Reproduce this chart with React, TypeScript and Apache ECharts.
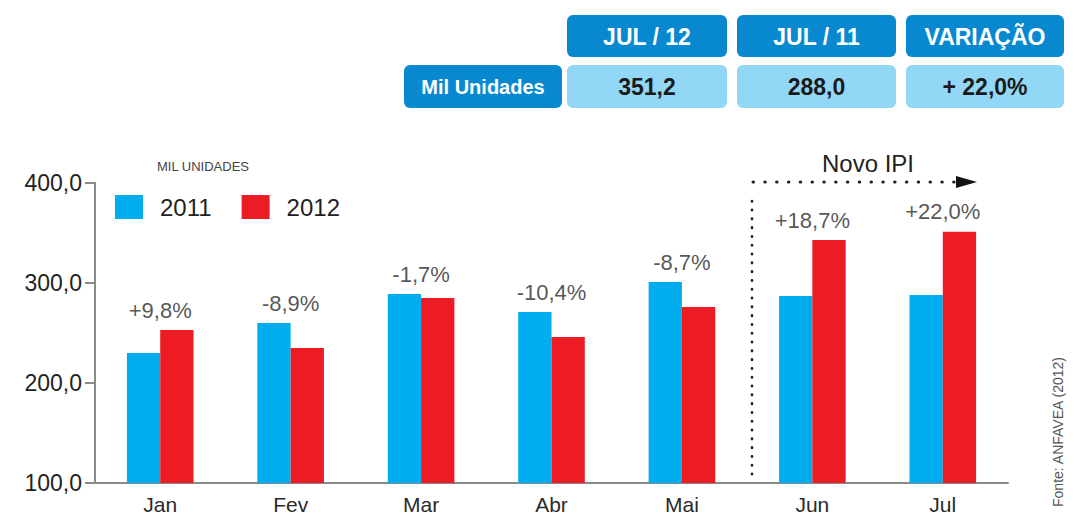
import React, { useEffect, useRef } from "react";
import * as echarts from "echarts";

const months = ["Jan", "Fev", "Mar", "Abr", "Mai", "Jun", "Jul"];
const values2011 = [230, 260, 289, 271, 301, 287, 288.0];
const values2012 = [253, 235, 285, 246, 276, 343, 351.2];
const changes = ["+9,8%", "-8,9%", "-1,7%", "-10,4%", "-8,7%", "+18,7%", "+22,0%"];
const yTicks = [100, 200, 300, 400];

const tableHeaders = ["JUL / 12", "JUL / 11", "VARIAÇÃO"];
const tableRowLabel = "Mil Unidades";
const tableValues = ["351,2", "288,0", "+ 22,0%"];

const FONT = '"Liberation Sans", Arial, Helvetica, sans-serif';
const BLUE = "#00aeef";
const RED = "#ed1c24";
const DARK_BOX = "#0889cf";
const LIGHT_BOX = "#92d8f6";

export default function App() {
  const ref = useRef<HTMLDivElement>(null);

  useEffect(() => {
    if (!ref.current) return;
    const chart = echarts.init(ref.current, null, { renderer: "svg" });

    const colX = [567, 737, 906];
    const colW = [160, 159, 158];
    const graphics: any[] = [];
    tableHeaders.forEach((h, i) => {
      graphics.push({
        type: "rect",
        shape: { x: colX[i], y: 15, width: colW[i], height: 42, r: 6 },
        style: { fill: DARK_BOX },
      });
      graphics.push({
        type: "text",
        x: colX[i] + colW[i] / 2,
        y: 37,
        style: {
          text: h,
          fill: "#ffffff",
          font: `bold 23px ${FONT}`,
          textAlign: "center",
          textVerticalAlign: "middle",
        },
      });
      graphics.push({
        type: "rect",
        shape: { x: colX[i], y: 65, width: colW[i], height: 43, r: 6 },
        style: { fill: LIGHT_BOX },
      });
      graphics.push({
        type: "text",
        x: colX[i] + colW[i] / 2,
        y: 87,
        style: {
          text: tableValues[i],
          fill: "#1a1a1a",
          font: `bold 23px ${FONT}`,
          textAlign: "center",
          textVerticalAlign: "middle",
        },
      });
    });
    graphics.push({
      type: "rect",
      shape: { x: 404, y: 65, width: 158, height: 43, r: 6 },
      style: { fill: DARK_BOX },
    });
    graphics.push({
      type: "text",
      x: 483,
      y: 87,
      style: {
        text: tableRowLabel,
        fill: "#ffffff",
        font: `bold 20px ${FONT}`,
        textAlign: "center",
        textVerticalAlign: "middle",
      },
    });
    graphics.push({
      type: "text",
      x: 157,
      y: 166,
      style: {
        text: "MIL UNIDADES",
        fill: "#444444",
        font: `13px ${FONT}`,
        textAlign: "left",
        textVerticalAlign: "middle",
      },
    });
    graphics.push({
      type: "text",
      x: 868,
      y: 163,
      style: {
        text: "Novo IPI",
        fill: "#222222",
        font: `24px ${FONT}`,
        textAlign: "center",
        textVerticalAlign: "middle",
      },
    });
    graphics.push({
      type: "line",
      shape: { x1: 753, y1: 182, x2: 958, y2: 182 },
      style: { stroke: "#222222", lineWidth: 3, lineDash: [0.5, 11.3], lineCap: "round" },
    });
    graphics.push({
      type: "polygon",
      shape: { points: [[956, 176], [977, 182], [956, 188]] },
      style: { fill: "#111111" },
    });
    graphics.push({
      type: "line",
      shape: { x1: 752, y1: 201, x2: 752, y2: 476 },
      style: { stroke: "#222222", lineWidth: 2.6, lineDash: [0.5, 8.3], lineCap: "round" },
    });
    graphics.push({
      type: "text",
      x: 1058,
      y: 432,
      rotation: Math.PI / 2,
      style: {
        text: "Fonte: ANFAVEA (2012)",
        fill: "#555555",
        font: `14px ${FONT}`,
        textAlign: "center",
        textVerticalAlign: "middle",
      },
    });

    const labelAnchor = months.map((_, i) => Math.max(values2011[i], values2012[i]));

    chart.setOption({
      animation: false,
      textStyle: { fontFamily: FONT },
      grid: { left: 95, right: 69, top: 183, bottom: 35, containLabel: false },
      legend: {
        data: ["2011", "2012"],
        left: 110,
        top: 190,
        itemWidth: 28,
        itemHeight: 24,
        itemGap: 30,
        icon: "rect",
        textStyle: { fontSize: 24, color: "#231f20", fontFamily: FONT, padding: [0, 0, 0, 12] },
      },
      xAxis: {
        type: "category",
        data: months,
        axisLine: { lineStyle: { color: "#8a8a8a", width: 2 } },
        axisTick: { show: false },
        axisLabel: { fontSize: 21, color: "#2a2a2a", margin: 11, fontFamily: FONT },
      },
      yAxis: {
        type: "value",
        min: yTicks[0],
        max: yTicks[yTicks.length - 1],
        interval: 100,
        axisLine: { show: true, lineStyle: { color: "#8a8a8a", width: 2 } },
        axisTick: { show: true, length: 10, lineStyle: { color: "#8a8a8a", width: 2 } },
        splitLine: { show: false },
        axisLabel: {
          fontSize: 23,
          color: "#231f20",
          margin: 13,
          fontFamily: FONT,
          formatter: (v: number) => v.toFixed(1).replace(".", ","),
        },
      },
      series: [
        {
          name: "2011",
          type: "bar",
          data: values2011,
          barWidth: 33.3,
          barGap: "0%",
          itemStyle: { color: BLUE },
        },
        {
          name: "2012",
          type: "bar",
          data: values2012,
          barWidth: 33.3,
          itemStyle: { color: RED },
        },
        {
          name: "variacao",
          type: "scatter",
          data: labelAnchor,
          symbolSize: 0,
          silent: true,
          label: {
            show: true,
            position: "top",
            distance: 9,
            fontSize: 22,
            color: "#2a2a2a",
            fontFamily: FONT,
            formatter: (p: any) => changes[p.dataIndex],
          },
        },
      ],
      graphic: graphics,
    });

    return () => chart.dispose();
  }, []);

  return (
    <div
      ref={ref}
      style={{ position: "absolute", left: 0, top: 0, width: 1077, height: 518 }}
    />
  );
}
